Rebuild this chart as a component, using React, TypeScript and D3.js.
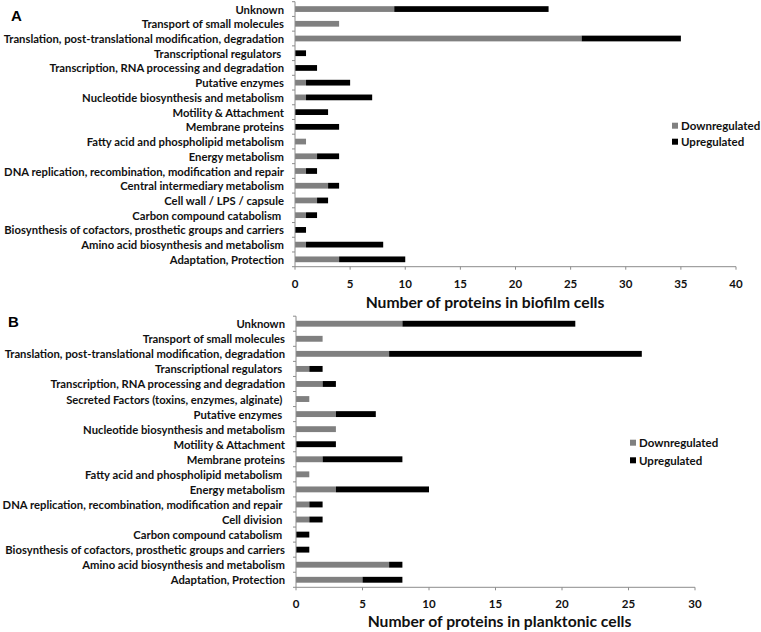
import React from "react";
import * as d3 from "d3";

const catsA = [
  "Unknown",
  "Transport of small molecules",
  "Translation, post-translational modification, degradation",
  "Transcriptional regulators ",
  "Transcription, RNA processing and degradation",
  "Putative enzymes",
  "Nucleotide biosynthesis and metabolism",
  "Motility & Attachment",
  "Membrane proteins",
  "Fatty acid and phospholipid metabolism",
  "Energy metabolism",
  "DNA replication, recombination, modification and repair",
  "Central intermediary metabolism",
  "Cell wall / LPS / capsule",
  "Carbon compound catabolism ",
  "Biosynthesis of cofactors, prosthetic groups and carriers",
  "Amino acid biosynthesis and metabolism",
  "Adaptation, Protection",
];
const downA = [9, 4, 26, 0, 0, 1, 1, 0, 0, 1, 2, 1, 3, 2, 1, 0, 1, 4];
const upA = [14, 0, 9, 1, 2, 4, 6, 3, 4, 0, 2, 1, 1, 1, 1, 1, 7, 6];

const catsB = [
  "Unknown",
  "Transport of small molecules",
  "Translation, post-translational modification, degradation",
  "Transcriptional regulators ",
  "Transcription, RNA processing and degradation",
  "Secreted Factors (toxins, enzymes, alginate) ",
  "Putative enzymes ",
  "Nucleotide biosynthesis and metabolism",
  "Motility & Attachment",
  "Membrane proteins",
  "Fatty acid and phospholipid metabolism ",
  "Energy metabolism",
  "DNA replication, recombination, modification and repair ",
  "Cell division ",
  "Carbon compound catabolism ",
  "Biosynthesis of cofactors, prosthetic groups and carriers",
  "Amino acid biosynthesis and metabolism",
  "Adaptation, Protection",
];
const downB = [8, 2, 7, 1, 2, 1, 3, 3, 0, 2, 1, 3, 1, 1, 0, 0, 7, 5];
const upB = [13, 0, 19, 1, 1, 0, 3, 0, 3, 6, 0, 7, 1, 1, 1, 1, 1, 3];

const ticksA = [0, 5, 10, 15, 20, 25, 30, 35, 40];
const ticksB = [0, 5, 10, 15, 20, 25, 30];
const seriesNames = ["Downregulated", "Upregulated"];
const titleA = "Number of proteins in biofilm cells";
const titleB = "Number of proteins in planktonic cells";

const GRAY = "#808080";
const BLACK = "#000000";
const AXIS = "#8c8c8c";
const FONT = "Lato, 'Open Sans', sans-serif";

type PanelProps = {
  letter: string;
  letterX: number;
  letterY: number;
  cats: string[];
  down: number[];
  up: number[];
  ticks: number[];
  x0: number;
  x1: number;
  y0: number;
  y1: number;
  title: string;
  titleX: number;
  titleY: number;
  tickLabelY: number;
  legendX: number;
  legendY: number;
  legendGap: number;
};

function Panel(p: PanelProps) {
  const max = p.ticks[p.ticks.length - 1];
  const x = d3.scaleLinear().domain([0, max]).range([p.x0, p.x1]);
  const y = d3
    .scaleBand<string>()
    .domain(p.cats)
    .range([p.y0, p.y1])
    .paddingInner(0.61)
    .paddingOuter(0.305);
  const step = y.step();
  const n = p.cats.length;
  const boundaries = d3.range(n + 1).map((i) => p.y0 + i * step);
  const stack = p.cats.map((c, i) => ({ c, d: p.down[i], u: p.up[i] }));
  return (
    <g>
      <text x={p.letterX} y={p.letterY} fontFamily="Arial, 'Liberation Sans', sans-serif" fontWeight="bold" fontSize={15} dominantBaseline="central">
        {p.letter}
      </text>
      {stack.map((s) => (
        <g key={s.c}>
          {s.d > 0 && (
            <rect x={x(0)} y={y(s.c)} width={x(s.d) - x(0)} height={y.bandwidth()} fill={GRAY} />
          )}
          {s.u > 0 && (
            <rect x={x(s.d)} y={y(s.c)} width={x(s.d + s.u) - x(s.d)} height={y.bandwidth()} fill={BLACK} />
          )}
          <text
            x={p.x0 - 11}
            y={(y(s.c) as number) + y.bandwidth() / 2}
            textAnchor="end"
            dominantBaseline="central"
            fontFamily={FONT}
            fontWeight="bold"
            fontSize={11.25}
            fill="#111"
            style={{ whiteSpace: "pre" }}
          >
            {s.c}
          </text>
        </g>
      ))}
      <line x1={p.x0} x2={p.x0} y1={p.y0} y2={p.y1} stroke={AXIS} strokeWidth={1} />
      {boundaries.map((b, i) => (
        <line key={i} x1={p.x0 - 3} x2={p.x0} y1={b} y2={b} stroke={AXIS} strokeWidth={1} />
      ))}
      <line x1={p.x0} x2={p.x1} y1={p.y1} y2={p.y1} stroke={AXIS} strokeWidth={1} />
      {p.ticks.map((t) => (
        <g key={t}>
          <line x1={x(t)} x2={x(t)} y1={p.y1} y2={p.y1 + 3} stroke={AXIS} strokeWidth={1} />
          <text
            x={x(t)}
            y={p.tickLabelY}
            textAnchor="middle"
            dominantBaseline="central"
            fontFamily={FONT}
            fontWeight="bold"
            fontSize={11.5}
            fill="#111"
          >
            {t}
          </text>
        </g>
      ))}
      <text
        x={p.titleX}
        y={p.titleY}
        textAnchor="middle"
        dominantBaseline="central"
        fontFamily={FONT}
        fontWeight="bold"
        fontSize={15.7}
        fill="#111"
      >
        {p.title}
      </text>
      {seriesNames.map((nm, i) => (
        <g key={nm}>
          <rect x={p.legendX} y={p.legendY + i * p.legendGap - 3} width={6} height={6} fill={i === 0 ? GRAY : BLACK} />
          <text
            x={p.legendX + 9}
            y={p.legendY + i * p.legendGap}
            dominantBaseline="central"
            fontFamily={FONT}
            fontWeight="bold"
            fontSize={11.5}
            fill="#111"
          >
            {nm}
          </text>
        </g>
      ))}
    </g>
  );
}

export default function App() {
  return (
    <svg
      width={761}
      height={632}
      style={{ position: "absolute", left: 0, top: 0, background: "#fff" }}
    >
      <rect x={0} y={0} width={761} height={632} fill="#fff" />
      <Panel
        letter="A"
        letterX={11}
        letterY={15}
        cats={catsA}
        down={downA}
        up={upA}
        ticks={ticksA}
        x0={295}
        x1={736}
        y0={1.7}
        y1={266.7}
        title={titleA}
        titleX={485}
        titleY={301.5}
        tickLabelY={283.5}
        legendX={672}
        legendY={125.7}
        legendGap={16}
      />
      <Panel
        letter="B"
        letterX={8}
        letterY={321}
        cats={catsB}
        down={downB}
        up={upB}
        ticks={ticksB}
        x0={296}
        x1={695}
        y0={316.2}
        y1={587.3}
        title={titleB}
        titleX={499.5}
        titleY={621}
        tickLabelY={603.5}
        legendX={630}
        legendY={442.7}
        legendGap={17.6}
      />
    </svg>
  );
}
